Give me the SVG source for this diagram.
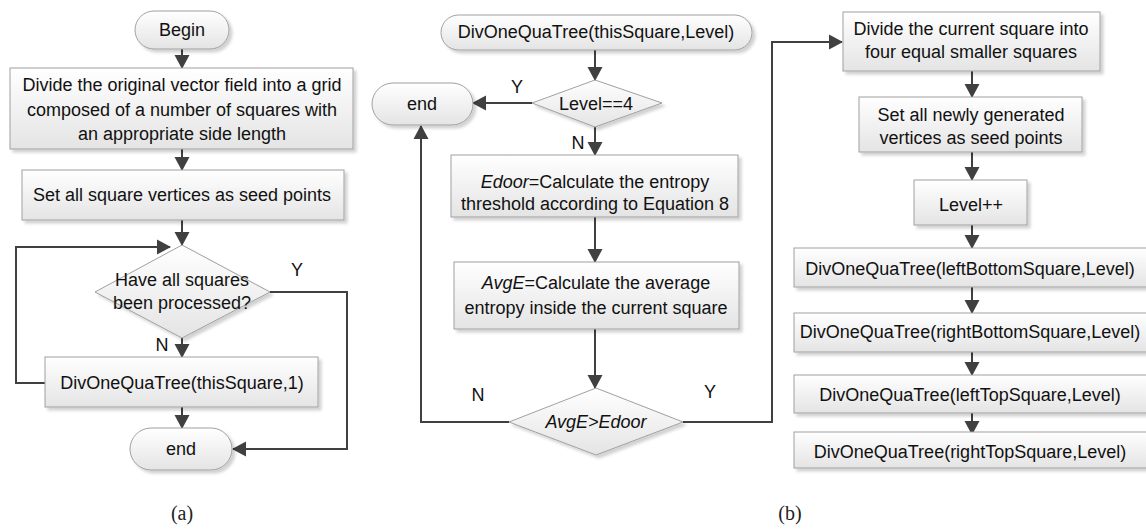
<svg xmlns="http://www.w3.org/2000/svg" width="1146" height="529" viewBox="0 0 1146 529">
<defs>
<linearGradient id="g" x1="0" y1="0" x2="0" y2="1">
<stop offset="0" stop-color="#ffffff"/>
<stop offset="1" stop-color="#e4e4e4"/>
</linearGradient>
<filter id="sh" x="-10%" y="-20%" width="130%" height="160%">
<feDropShadow dx="3" dy="3" stdDeviation="1.5" flood-color="#000" flood-opacity="0.18"/>
</filter>
<marker id="ah" markerUnits="userSpaceOnUse" markerWidth="14" markerHeight="16" viewBox="0 0 14 16" refX="13" refY="8" orient="auto">
<path d="M0,0.5 L14,8 L0,15.5 z" fill="#404040"/>
</marker>
</defs>
<style>
.s{fill:url(#g);stroke:#a0a0a0;stroke-width:1;filter:url(#sh)}
.t{font-family:"Liberation Sans",Arial,sans-serif;font-size:18px;fill:#111;text-anchor:middle}
.l{font-family:"Liberation Sans",Arial,sans-serif;font-size:18px;fill:#111;text-anchor:middle}
.c{fill:none;stroke:#404040;stroke-width:2;marker-end:url(#ah)}
.cap{font-family:"Liberation Serif","Times New Roman",serif;font-size:20px;fill:#222;text-anchor:middle}
.i{font-style:italic}
</style>
<g id="connectors">
<path class="c" d="M182,49 V68"/>
<path class="c" d="M182,149 V170"/>
<path class="c" d="M182,220 V245"/>
<path class="c" d="M182,338 V357"/>
<path class="c" d="M182,407 V428"/>
<path class="c" d="M45,383 H16 V247 H170"/>
<path class="c" d="M270,292 H347 V449 H233"/>
<path class="c" d="M595,50 V80"/>
<path class="c" d="M532,103 H473"/>
<path class="c" d="M595,127 V155"/>
<path class="c" d="M595,217 V262"/>
<path class="c" d="M595,329 V388"/>
<path class="c" d="M509,422 H421 V126"/>
<path class="c" d="M683,422 H772 V42 H842"/>
<path class="c" d="M972,71 V97"/>
<path class="c" d="M972,152 V180"/>
<path class="c" d="M972,225 V248"/>
<path class="c" d="M972,287 V313"/>
<path class="c" d="M972,352 V375"/>
<path class="c" d="M972,413 V434"/>
</g>
<g id="labels">
<text class="l" x="162" y="351">N</text>
<text class="l" x="297" y="276">Y</text>
<text class="l" x="517" y="93">Y</text>
<text class="l" x="578" y="149">N</text>
<text class="l" x="478" y="401">N</text>
<text class="l" x="710" y="398">Y</text>
<text class="cap" x="182" y="520">(a)</text>
<text class="cap" x="790" y="520">(b)</text>
</g>
<g id="a-begin">
<rect class="s" x="135" y="11" width="94" height="38" rx="19"/>
<text class="t" x="182" y="36">Begin</text>
</g>
<g id="a-divide">
<rect class="s" x="10" y="68" width="343" height="81"/>
<text class="t" x="182" y="91">Divide the original vector field into a grid</text>
<text class="t" x="182" y="116">composed of a number of squares with</text>
<text class="t" x="182" y="140">an appropriate side length</text>
</g>
<g id="a-seed">
<rect class="s" x="22" y="170" width="322" height="50"/>
<text class="t" x="182" y="201">Set all square vertices as seed points</text>
</g>
<g id="a-decision">
<polygon class="s" points="182,245 270,292 182,338 95,292"/>
<text class="t" x="182" y="286">Have all squares</text>
<text class="t" x="182" y="309">been processed?</text>
</g>
<g id="a-call">
<rect class="s" x="45" y="357" width="273" height="50"/>
<text class="t" x="182" y="389">DivOneQuaTree(thisSquare,1)</text>
</g>
<g id="a-end">
<rect class="s" x="130" y="428" width="102" height="42" rx="21"/>
<text class="t" x="181" y="455">end</text>
</g>
<g id="b-start">
<rect class="s" x="441" y="15" width="311" height="35" rx="17.5"/>
<text class="t" x="596" y="38">DivOneQuaTree(thisSquare,Level)</text>
</g>
<g id="b-level">
<polygon class="s" points="595,80 662,103 595,127 532,103"/>
<text class="t" x="596" y="110">Level==4</text>
</g>
<g id="b-end">
<rect class="s" x="372" y="83" width="101" height="42" rx="21"/>
<text class="t" x="422" y="110">end</text>
</g>
<g id="b-edoor">
<rect class="s" x="451" y="155" width="287" height="62"/>
<text class="t" x="595" y="188"><tspan class="i">Edoor</tspan>=Calculate the entropy</text>
<text class="t" x="595" y="210">threshold according to Equation 8</text>
</g>
<g id="b-avge">
<rect class="s" x="454" y="262" width="285" height="67"/>
<text class="t" x="596" y="289"><tspan class="i">AvgE</tspan>=Calculate the average</text>
<text class="t" x="596" y="314">entropy inside the current square</text>
</g>
<g id="b-compare">
<polygon class="s" points="596,388 683,422 596,455 509,422"/>
<text class="t i" x="596" y="428">AvgE&gt;Edoor</text>
</g>
<g id="b-divide">
<rect class="s" x="843" y="12" width="257" height="59"/>
<text class="t" x="971" y="35">Divide the current square into</text>
<text class="t" x="971" y="58">four equal smaller squares</text>
</g>
<g id="b-seed">
<rect class="s" x="859" y="97" width="223" height="55"/>
<text class="t" x="971" y="121">Set all newly generated</text>
<text class="t" x="971" y="144">vertices as seed points</text>
</g>
<g id="b-levelpp">
<rect class="s" x="914" y="180" width="113" height="45"/>
<text class="t" x="971" y="211">Level++</text>
</g>
<g id="b-lb">
<rect class="s" x="794" y="248" width="353" height="39"/>
<text class="t" x="970" y="275">DivOneQuaTree(leftBottomSquare,Level)</text>
</g>
<g id="b-rb">
<rect class="s" x="794" y="313" width="353" height="39"/>
<text class="t" x="970" y="338">DivOneQuaTree(rightBottomSquare,Level)</text>
</g>
<g id="b-lt">
<rect class="s" x="794" y="375" width="353" height="38"/>
<text class="t" x="970" y="401">DivOneQuaTree(leftTopSquare,Level)</text>
</g>
<g id="b-rt">
<rect class="s" x="794" y="432" width="353" height="36"/>
<text class="t" x="970" y="458">DivOneQuaTree(rightTopSquare,Level)</text>
</g>
</svg>
